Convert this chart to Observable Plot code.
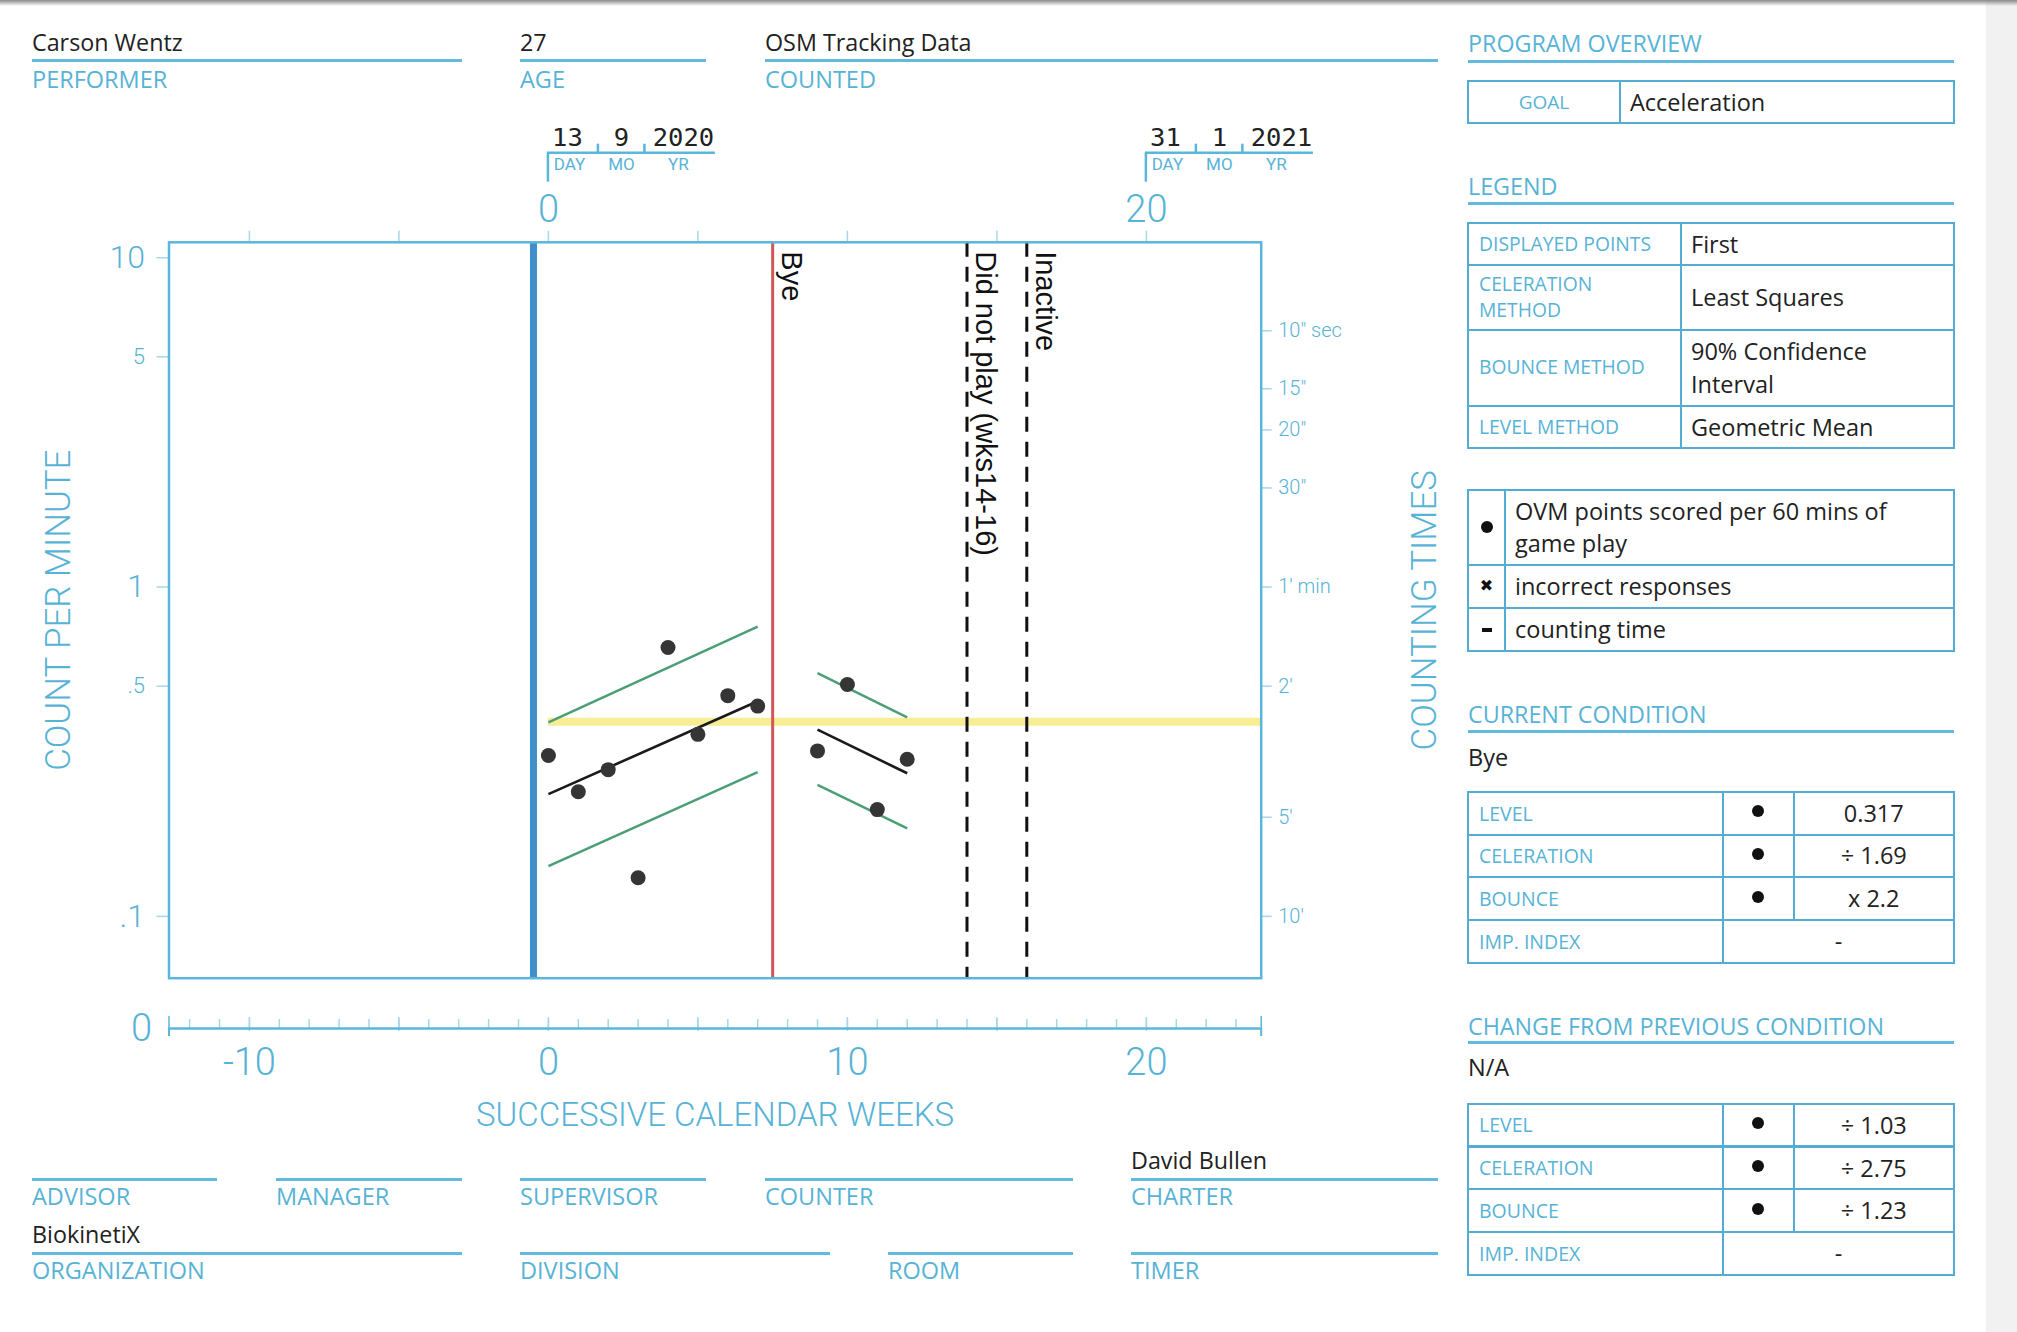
<!DOCTYPE html>
<html>
<head>
<meta charset="utf-8">
<script src="https://cdn.jsdelivr.net/npm/d3@7"></script>
<script src="https://cdn.jsdelivr.net/npm/@observablehq/plot@0.6"></script>
<style>
  html, body { margin: 0; padding: 0; background: #fff; }
  #page { position: relative; width: 2017px; height: 1332px; overflow: hidden; background: #fff; font-family: "Open Sans", sans-serif; }
  .a { position: absolute; white-space: nowrap; line-height: 1; }
  #shadow { position: absolute; left: 0; top: 0; width: 2017px; height: 6px; background: linear-gradient(#8a8a8a, rgba(255,255,255,0)); }
  #strip { position: absolute; left: 1986px; top: 0; width: 31px; height: 1332px; background: #f1f1f1; }
</style>
</head>
<body>
<div id="page">
  <div id="strip"></div>
  <div id="main" style="position:absolute;left:0;top:120px;width:1450px;height:870px;"></div>
  <div id="zero" style="position:absolute;left:0;top:990px;width:1450px;height:145px;"></div>
  <div id="shadow"></div>
</div>
<script>
// ---------------- DATA ----------------
const headerValues = ["Carson Wentz", "27", "OSM Tracking Data"];
const headerLabels = ["PERFORMER", "AGE", "COUNTED"];
const footerRow1Labels = ["ADVISOR", "MANAGER", "SUPERVISOR", "COUNTER", "CHARTER"];
const footerRow1Values = ["", "", "", "", "David Bullen"];
const footerRow2Labels = ["ORGANIZATION", "DIVISION", "ROOM", "TIMER"];
const footerRow2Values = ["BiokinetiX", "", "", ""];

const phase1Weeks = [0, 1, 2, 3, 4, 5, 6, 7];
const phase1Counts = [0.308, 0.239, 0.279, 0.131, 0.655, 0.357, 0.468, 0.435];
const phase2Weeks = [9, 10, 11, 12];
const phase2Counts = [0.318, 0.506, 0.211, 0.300];

const trendStartWeeks = [0, 9];
const trendEndWeeks = [7, 12];
const celerationFrom = [0.235, 0.369];
const celerationTo = [0.45, 0.272];
const bounceUpperFrom = [0.388, 0.548];
const bounceUpperTo = [0.758, 0.402];
const bounceLowerFrom = [0.142, 0.251];
const bounceLowerTo = [0.274, 0.185];

const aimCount = 0.39;
const aimStartWeek = 0;
const phaseChangeWeek = -0.5;
const eventWeeks = [7.5, 14, 16];
const eventLabels = ["Bye", "Did not play (wks14-16)", "Inactive"];
const eventKinds = ["condition", "note", "note"];

const leftMajorTicks = [0.1, 1, 10];
const leftMajorLabels = [".1", "1", "10"];
const leftMinorTicks = [0.5, 5];
const leftMinorLabels = [".5", "5"];
const countingTimeTicks = [6, 4, 3, 2, 1, 0.5, 0.2, 0.1];
const countingTimeLabels = ['10" sec', '15"', '20"', '30"', "1' min", "2'", "5'", "10'"];
const topTicks = [-10, -5, 0, 5, 10, 15, 20];
const topLabelWeeks = [0, 20];
const bottomLabelWeeks = [-10, 0, 10, 20];
const majorWeekTicks = [-10, -5, 0, 5, 10, 15, 20];
const dateWeeks = [0, 20];
const dateDays = ["13", "31"];
const dateMonths = ["9", "1"];
const dateYears = ["2020", "2021"];
const dateParts = ["DAY", "MO", "YR"];
const yTitle = "COUNT PER MINUTE";
const y2Title = "COUNTING TIMES";
const xTitle = "SUCCESSIVE CALENDAR WEEKS";
const zeroLabel = "0";

const goalLabel = "GOAL";
const goalValue = "Acceleration";
const legendKeys = ["DISPLAYED POINTS", "CELERATION<br>METHOD", "BOUNCE METHOD", "LEVEL METHOD"];
const legendValues = ["First", "Least Squares", "90% Confidence<br>Interval", "Geometric Mean"];
const symbolNames = ["OVM points scored per 60 mins of<br>game play", "incorrect responses", "counting time"];
const currentCondition = "Bye";
const changeCondition = "N/A";
const statLabels = ["LEVEL", "CELERATION", "BOUNCE", "IMP. INDEX"];
const currentValues = ["0.317", "÷ 1.69", "x 2.2", "-"];
const changeValues = ["÷ 1.03", "÷ 2.75", "÷ 1.23", "-"];

// ---------------- STYLE ----------------
const BLUE_TEXT = "#57b3d6";
const LINE_BLUE = "#62bbdd";
const BORDER = "#52acd3";
const FRAME_BLUE = "#5ab6dc";
const TICK = "#a9d6e8";
const INK = "#222";
const AXIS_FONT = "Roboto";
const X_DOMAIN = [-12.69, 23.84];
const Y_DOMAIN = [0.0649, 11.14];
const MAIN_TOP = 120;

const page = document.getElementById("page");
function txt(s, x, cy, fs, color, anchor) {
  const d = document.createElement("div");
  d.className = "a";
  d.style.left = x + "px";
  d.style.top = (cy - 0.53 * fs) + "px";
  d.style.fontSize = fs + "px";
  d.style.color = color;
  if (anchor === "middle") d.style.transform = "translateX(-50%)";
  d.innerHTML = s;
  page.appendChild(d);
}
function hline(x1, x2, y, color, w) {
  const d = document.createElement("div");
  d.style.cssText = `position:absolute;left:${x1}px;top:${y - w / 2}px;width:${x2 - x1}px;height:${w}px;background:${color};`;
  page.appendChild(d);
}
function cell(x1, y1, x2, y2, html, fs, color, align, pad, lh) {
  const d = document.createElement("div");
  const center = align === "center";
  d.style.cssText = `position:absolute;left:${x1 - 1}px;top:${y1 - 1}px;width:${x2 - x1 + 2}px;height:${y2 - y1 + 2}px;box-sizing:border-box;border:2px solid ${BORDER};display:flex;align-items:center;justify-content:${center ? "center" : "flex-start"};padding:0 ${center ? 0 : (pad ?? 9)}px;font-size:${fs}px;color:${color};line-height:${lh ?? 1.4};white-space:nowrap;`;
  d.innerHTML = html;
  page.appendChild(d);
}

// ---------------- HEADER / FOOTER ----------------
const headerSpans = [[32, 462], [520, 706], [765, 1438]];
headerSpans.forEach(([x1, x2], i) => {
  txt(headerValues[i], x1, 43.5, 23.3, INK);
  hline(x1, x2, 60.5, LINE_BLUE, 3);
  txt(headerLabels[i], x1, 80.5, 23.5, BLUE_TEXT);
});
const row1Spans = [[32, 217], [276, 462], [520, 706], [765, 1073], [1131, 1438]];
row1Spans.forEach(([x1, x2], i) => {
  if (footerRow1Values[i]) txt(footerRow1Values[i], x1, 1161, 23.3, INK);
  hline(x1, x2, 1179, LINE_BLUE, 3);
  txt(footerRow1Labels[i], x1, 1197.5, 23.5, BLUE_TEXT);
});
const row2Spans = [[32, 462], [520, 830], [888, 1073], [1131, 1438]];
row2Spans.forEach(([x1, x2], i) => {
  if (footerRow2Values[i]) txt(footerRow2Values[i], x1, 1235, 23.3, INK);
  hline(x1, x2, 1253, LINE_BLUE, 3);
  txt(footerRow2Labels[i], x1, 1271.5, 23.5, BLUE_TEXT);
});

// ---------------- RIGHT PANEL ----------------
const PX1 = 1468, PX2 = 1954;
function section(title, cy, ly) { txt(title, PX1, cy, 23.3, BLUE_TEXT); hline(PX1, PX2, ly, LINE_BLUE, 3); }
section("PROGRAM OVERVIEW", 44, 61);
cell(PX1, 81, 1620, 123, goalLabel, 19, BLUE_TEXT, "center");
cell(1620, 81, PX2, 123, goalValue, 23.5, INK);
section("LEGEND", 187, 203);
const legRowY = [223, 265, 329.5, 406, 448];
legendKeys.forEach((k, i) => {
  cell(PX1, legRowY[i], 1681, legRowY[i + 1], k, 19.3, BLUE_TEXT, "left", 10, 1.38);
  cell(1681, legRowY[i], PX2, legRowY[i + 1], legendValues[i], 23.5, INK, "left", 9, 1.38);
});
const symRowY = [489.5, 565, 608, 651];
const dotHTML = (s) => `<span style="display:inline-block;width:${s}px;height:${s}px;border-radius:50%;background:#111"></span>`;
const symbolHTML = [dotHTML(12), `<span style="font-family:'DejaVu Sans';font-size:16px;color:#111">✖</span>`,
  `<span style="display:inline-block;width:10px;height:4px;background:#111"></span>`];
symbolNames.forEach((n, i) => {
  cell(PX1, symRowY[i], 1505, symRowY[i + 1], symbolHTML[i], 16, INK, "center");
  cell(1505, symRowY[i], PX2, symRowY[i + 1], n, 23.5, INK, "left", 9, 1.38);
});
function statTable(rowY, values) {
  statLabels.forEach((l, i) => {
    cell(PX1, rowY[i], 1723, rowY[i + 1], l, 19.5, BLUE_TEXT, "left", 10);
    if (i < 3) {
      cell(1723, rowY[i], 1793.5, rowY[i + 1], `<span style="margin-top:-4px;display:inline-flex">${dotHTML(12)}</span>`, 16, INK, "center");
      cell(1793.5, rowY[i], PX2, rowY[i + 1], values[i], 23.5, INK, "center");
    } else {
      cell(1723, rowY[i], PX2, rowY[i + 1], values[i], 23.5, INK, "center");
    }
  });
}
section("CURRENT CONDITION", 715, 731);
txt(currentCondition, PX1, 758.5, 23.5, INK);
statTable([792, 834.5, 877.3, 920.2, 963], currentValues);
section("CHANGE FROM PREVIOUS CONDITION", 1027, 1042.3);
txt(changeCondition, PX1, 1068.5, 23.5, INK);
statTable([1103.6, 1146.5, 1189.4, 1232.2, 1275], changeValues);

// ---------------- MAIN CHART ----------------
const points = [
  ...phase1Weeks.map((w, i) => ({week: w, count: phase1Counts[i]})),
  ...phase2Weeks.map((w, i) => ({week: w, count: phase2Counts[i]}))
];
const seg = (from, to) => trendStartWeeks.map((s, i) => ({x1: s, x2: trendEndWeeks[i], y1: from[i], y2: to[i]}));
const celeration = seg(celerationFrom, celerationTo);
const bounce = [...seg(bounceUpperFrom, bounceUpperTo), ...seg(bounceLowerFrom, bounceLowerTo)];
const events = eventWeeks.map((w, i) => ({week: w, label: eventLabels[i], kind: eventKinds[i]}));
const dates = dateWeeks.map((w, i) => ({week: w, day: dateDays[i], month: dateMonths[i], year: dateYears[i]}));

const FRAME_TOP_ABS = 241.8;
const tickOnly = {stroke: TICK, strokeWidth: 1.5, fill: "none", label: null, tickFormat: () => ""};
const labelFont = {fontFamily: AXIS_FONT, fontWeight: 300, fill: BLUE_TEXT};

const chart = Plot.plot({
  width: 1450, height: 870,
  marginLeft: 168.5, marginRight: 189.3, marginTop: FRAME_TOP_ABS - MAIN_TOP, marginBottom: 12.3,
  x: {domain: X_DOMAIN},
  y: {type: "log", domain: Y_DOMAIN},
  style: {background: "transparent", overflow: "visible", fontFamily: AXIS_FONT},
  marks: [
    Plot.axisY({anchor: "left", ticks: [...leftMajorTicks, ...leftMinorTicks], tickSize: 12, ...tickOnly}),
    Plot.axisY({anchor: "right", ticks: countingTimeTicks, tickSize: 10, ...tickOnly}),
    Plot.text(leftMajorTicks, {y: d => d, text: (d, i) => leftMajorLabels[i], frameAnchor: "left", textAnchor: "end", lineAnchor: "middle", dx: -24, fontSize: 32, ...labelFont}),
    Plot.text(leftMinorTicks, {y: d => d, text: (d, i) => leftMinorLabels[i], frameAnchor: "left", textAnchor: "end", lineAnchor: "middle", dx: -24, fontSize: 22, ...labelFont}),
    Plot.text(countingTimeTicks, {y: d => d, text: (d, i) => countingTimeLabels[i], frameAnchor: "right", textAnchor: "start", lineAnchor: "middle", dx: 17, fontSize: 20, ...labelFont}),
    Plot.axisX({anchor: "top", ticks: topTicks, tickFormat: d => topLabelWeeks.includes(d) ? String(d) : "", tickSize: 12, tickPadding: 8, fontSize: 38, ...labelFont, stroke: TICK, strokeWidth: 1.5, label: null}),
    Plot.ruleY([aimCount], {x1: aimStartWeek, x2: X_DOMAIN[1], stroke: "#f7ee93", strokeWidth: 8}),
    Plot.ruleX([phaseChangeWeek], {stroke: "#3f8fcd", strokeWidth: 7}),
    Plot.ruleX(events.filter(d => d.kind === "condition"), {x: "week", stroke: "#d0575a", strokeWidth: 3}),
    Plot.ruleX(events.filter(d => d.kind === "note"), {x: "week", stroke: "#111", strokeWidth: 3, strokeDasharray: "15,10"}),
    Plot.link(bounce, {x1: "x1", y1: "y1", x2: "x2", y2: "y2", stroke: "#4c9e76", strokeWidth: 2.5}),
    Plot.link(celeration, {x1: "x1", y1: "y1", x2: "x2", y2: "y2", stroke: "#1a1a1a", strokeWidth: 2.6}),
    Plot.dot(points, {x: "week", y: "count", r: 7.5, fill: "#353535"}),
    Plot.text(events, {x: "week", text: "label", frameAnchor: "top", rotate: 90, textAnchor: "start", lineAnchor: "bottom", dx: 9, dy: 9, fontSize: 29, fontFamily: "Liberation Sans", fill: "#111"}),
    Plot.frame({stroke: FRAME_BLUE, strokeWidth: 2.5}),
    Plot.text(dates, {x: "week", text: "day", frameAnchor: "top", textAnchor: "middle", lineAnchor: "middle", dx: 19, dy: 137.5 - FRAME_TOP_ABS, fontSize: 25.5, fontFamily: "DejaVu Sans Mono", fill: INK}),
    Plot.text(dates, {x: "week", text: "month", frameAnchor: "top", textAnchor: "middle", lineAnchor: "middle", dx: 73, dy: 137.5 - FRAME_TOP_ABS, fontSize: 25.5, fontFamily: "DejaVu Sans Mono", fill: INK}),
    Plot.text(dates, {x: "week", text: "year", frameAnchor: "top", textAnchor: "middle", lineAnchor: "middle", dx: 135, dy: 137.5 - FRAME_TOP_ABS, fontSize: 25.5, fontFamily: "DejaVu Sans Mono", fill: INK}),
    ...dateParts.map((p, j) => Plot.text(dateWeeks, {x: d => d, text: () => p, frameAnchor: "top", textAnchor: "middle", lineAnchor: "middle", dx: [21, 73, 130][j], dy: 164.5 - FRAME_TOP_ABS, fontSize: 17, ...labelFont, fontWeight: 400})),
    Plot.text([yTitle], {frameAnchor: "left", textAnchor: "middle", lineAnchor: "middle", dx: 58 - 168.5, rotate: -90, fontSize: 34.8, ...labelFont}),
    Plot.text([y2Title], {frameAnchor: "right", textAnchor: "middle", lineAnchor: "middle", dx: 1424 - 1260.7, rotate: -90, fontSize: 34.8, ...labelFont})
  ]
});
document.getElementById("main").appendChild(chart);

// date brackets, placed with the chart's own x scale
const sx = chart.scale("x");
const svg = d3.select(chart);
dateWeeks.forEach(w => {
  const X = sx.apply(w);
  const yb = 152.7 - MAIN_TOP;
  const g = svg.append("g").attr("stroke", FRAME_BLUE).attr("stroke-width", 2.5).attr("fill", "none");
  g.append("line").attr("x1", X - 1).attr("x2", X + 167).attr("y1", yb).attr("y2", yb);
  g.append("line").attr("x1", X).attr("x2", X).attr("y1", yb).attr("y2", yb + 29);
  [50, 96.5].forEach(o => g.append("line").attr("x1", X + o).attr("x2", X + o).attr("y1", yb - 9).attr("y2", yb));
});

// ---------------- ZERO ROW / WEEK AXIS ----------------
const weekTicks = d3.range(-12, 24);
const zeroTicks = {stroke: TICK, strokeWidth: 1.5, fill: "none", label: null, tickFormat: () => ""};
const zero = Plot.plot({
  width: 1450, height: 145,
  marginLeft: 168.5, marginRight: 189.3, marginTop: 38, marginBottom: 99,
  x: {domain: X_DOMAIN},
  y: {domain: [0, 1]},
  style: {background: "transparent", overflow: "visible", fontFamily: AXIS_FONT},
  marks: [
    Plot.axisX({anchor: "top", ticks: weekTicks, tickSize: 10, ...zeroTicks}),
    Plot.axisX({anchor: "top", ticks: majorWeekTicks, tickSize: 12, ...zeroTicks}),
    Plot.axisX({anchor: "top", ticks: X_DOMAIN, tickSize: 13, ...zeroTicks, stroke: FRAME_BLUE}),
    Plot.ruleX(X_DOMAIN, {stroke: FRAME_BLUE, strokeWidth: 2}),
    Plot.ruleX(majorWeekTicks, {stroke: TICK, strokeWidth: 1.5, insetBottom: 5}),
    Plot.ruleY([1], {stroke: FRAME_BLUE, strokeWidth: 2.5}),
    Plot.axisX({anchor: "bottom", ticks: bottomLabelWeeks, tickSize: 0, tickPadding: 12, tickFormat: d => String(d), fontSize: 38, ...labelFont, label: null}),
    Plot.axisY({anchor: "left", ticks: [1], tickSize: 0, tickPadding: 17, tickFormat: () => zeroLabel, fontSize: 38, ...labelFont, label: null}),
    Plot.text([xTitle], {frameAnchor: "bottom", textAnchor: "middle", lineAnchor: "middle", dy: 1115 - 1036, fontSize: 33, ...labelFont})
  ]
});
document.getElementById("zero").appendChild(zero);
</script>
</body>
</html>
